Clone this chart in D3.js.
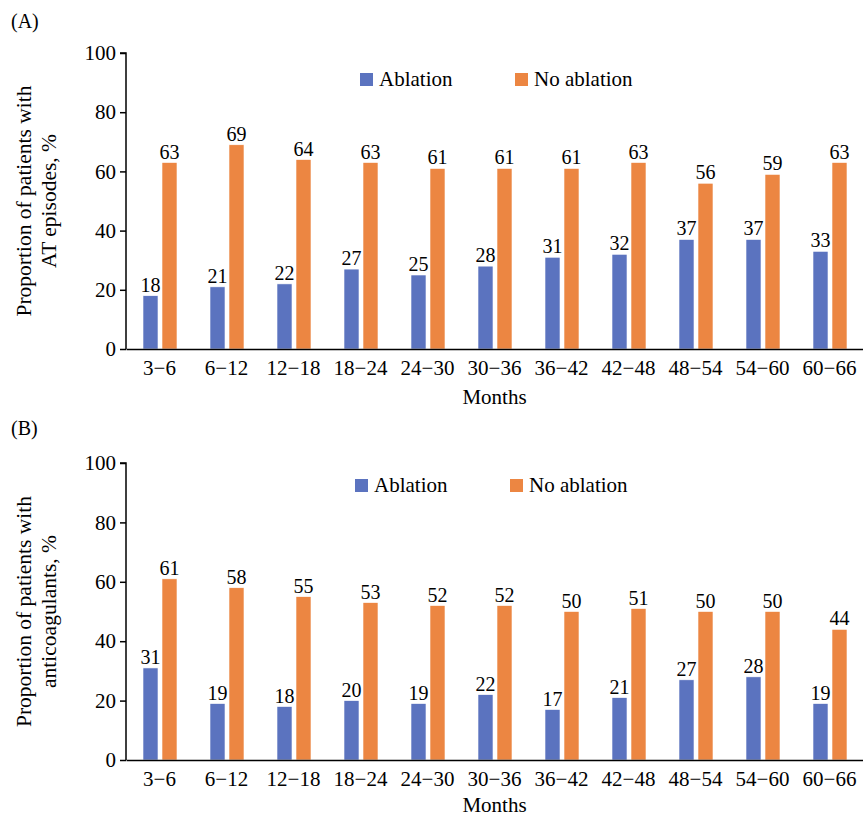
<!DOCTYPE html>
<html>
<head>
<meta charset="utf-8">
<script src="https://cdn.jsdelivr.net/npm/d3@7"></script>
<style>
  body { margin: 0; background: #fff; }
  svg { font-family: "Liberation Serif", "Times New Roman", serif; }
</style>
</head>
<body>
<svg class="chart" width="863" height="818"></svg>
<script>
const width = 863;
const height = 818;

// 数据
const months = ["3−6", "6−12", "12−18", "18−24", "24−30", "30−36", "36−42", "42−48", "48−54", "54−60", "60−66"];
const seriesNames = ["Ablation", "No ablation"];
const ablationA = [18, 21, 22, 27, 25, 28, 31, 32, 37, 37, 33];
const noAblationA = [63, 69, 64, 63, 61, 61, 61, 63, 56, 59, 63];
const ablationB = [31, 19, 18, 20, 19, 22, 17, 21, 27, 28, 19];
const noAblationB = [61, 58, 55, 53, 52, 52, 50, 51, 50, 50, 44];
const yTicks = [0, 20, 40, 60, 80, 100];

const colors = ["#5b73bf", "#ec8642"];

const svg = d3.select(".chart");

const xLeft = 126;   // y轴位置
const xRight = 863;

function drawPanel(cfg) {
    const g = svg.append("g");

    const xScale = d3.scaleBand()
        .domain(months)
        .range([xLeft, xRight]);

    const bw = xScale.bandwidth();
    const x1 = d3.scaleBand()
        .domain(seriesNames)
        .range([bw * 17 / 67, bw * 51 / 67])
        .paddingInner(0.21);

    const yScale = d3.scaleLinear()
        .domain([0, 100])
        .range([cfg.bottom, cfg.top]);

    const rows = months.map((m, i) => ({
        month: m,
        values: [cfg.a[i], cfg.b[i]]
    }));

    // 柱子
    const groups = g.selectAll(".grp")
        .data(rows)
        .enter()
        .append("g")
        .attr("transform", (d) => `translate(${xScale(d.month)},0)`);

    groups.selectAll("rect")
        .data((d) => d.values.map((v, k) => ({ key: seriesNames[k], v: v, k: k })))
        .enter()
        .append("rect")
        .attr("x", (d) => x1(d.key))
        .attr("width", x1.bandwidth())
        .attr("y", (d) => yScale(d.v))
        .attr("height", (d) => yScale(0) - yScale(d.v))
        .style("fill", (d) => colors[d.k])
        .style("stroke", "#fff")
        .style("stroke-width", 0.6);

    // 数值标签
    groups.selectAll("text")
        .data((d) => d.values.map((v, k) => ({ key: seriesNames[k], v: v })))
        .enter()
        .append("text")
        .attr("x", (d) => x1(d.key) + x1.bandwidth() / 2)
        .attr("y", (d) => yScale(d.v) - 4)
        .attr("text-anchor", "middle")
        .style("font-size", "20px")
        .text((d) => d.v);

    // y轴
    const yAxis = d3.axisLeft(yScale)
        .tickValues(yTicks)
        .tickSize(6)
        .tickPadding(4);

    const ya = g.append("g")
        .attr("transform", `translate(${xLeft},0)`)
        .call(yAxis);
    ya.select(".domain").attr("d", `M-6,${cfg.top}H0V${cfg.bottom}`).style("stroke-width", 1.5);
    ya.selectAll("line").style("stroke-width", 1.5);
    ya.selectAll("text")
        .style("font-size", "21px")
        .style("font-family", "Liberation Serif, serif")
        .attr("fill", "#000");

    // x轴
    const xAxis = d3.axisBottom(xScale).tickSize(0).tickPadding(11);
    const xa = g.append("g")
        .attr("transform", `translate(0,${cfg.bottom})`)
        .call(xAxis);
    xa.select(".domain").style("stroke-width", 1.5);
    xa.selectAll("text")
        .style("font-size", "21px")
        .style("font-family", "Liberation Serif, serif")
        .attr("fill", "#000");

    // 轴标题
    g.append("text")
        .attr("x", (xLeft + xRight) / 2)
        .attr("y", cfg.bottom + cfg.monthsGap)
        .attr("text-anchor", "middle")
        .style("font-size", "21px")
        .text("Months");

    const cy = (cfg.top + cfg.bottom) / 2;
    const yt = g.append("text")
        .attr("transform", `translate(0,${cy}) rotate(-90)`)
        .attr("text-anchor", "middle")
        .style("font-size", "21.5px");
    yt.append("tspan").attr("x", 0).attr("y", 31).text(cfg.yLines[0]);
    yt.append("tspan").attr("x", 0).attr("y", 56).text(cfg.yLines[1]);

    // 面板标签
    g.append("text")
        .attr("x", 11)
        .attr("y", cfg.labelY)
        .style("font-size", "20px")
        .text(cfg.label);

    // 图例
    const legend = g.append("g")
        .attr("transform", `translate(${cfg.legendX},${cfg.legendY})`);
    const items = legend.selectAll(".legend-item")
        .data(seriesNames)
        .enter()
        .append("g")
        .attr("transform", (d, i) => `translate(${i * 155},0)`);
    items.append("rect")
        .attr("width", 13)
        .attr("height", 13)
        .style("fill", (d, i) => colors[i]);
    items.append("text")
        .attr("x", 19)
        .attr("y", 13)
        .style("font-size", "21px")
        .text((d) => d);
}

drawPanel({
    a: ablationA, b: noAblationA,
    top: 53, bottom: 349, monthsGap: 55,
    label: "(A)", labelY: 28,
    legendX: 360, legendY: 73,
    yLines: ["Proportion of patients with", "AT episodes, %"]
});

drawPanel({
    a: ablationB, b: noAblationB,
    top: 463, bottom: 760, monthsGap: 52,
    label: "(B)", labelY: 435,
    legendX: 355, legendY: 479,
    yLines: ["Proportion of patients with", "anticoagulants, %"]
});
</script>
</body>
</html>
